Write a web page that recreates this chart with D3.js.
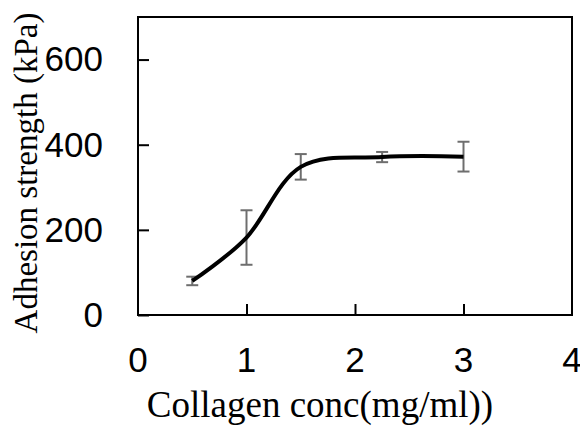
<!DOCTYPE html>
<html>
<head>
<meta charset="utf-8">
<script src="https://cdn.jsdelivr.net/npm/d3@7"></script>
<style>
  html, body { margin: 0; padding: 0; background: #fff; }
  svg { display: block; }
</style>
</head>
<body>
<svg id="chart" width="580" height="427"></svg>
<script>
// Data
const concentrations = [0.5, 1, 1.5, 2.25, 3];
const adhesion = [80, 182, 348, 371, 372];
const errors = [10, 64, 30, 12, 35];
const xTicks = [0, 1, 2, 3, 4];
const yTicks = [0, 200, 400, 600];

const svg = d3.select("#chart");
const plotL = 138, plotR = 572, plotT = 17, plotB = 315;

const x = d3.scaleLinear().domain([0, 4]).range([plotL, plotR]);
const y = d3.scaleLinear().domain([0, 700]).range([plotB, plotT]);

svg.append("rect").attr("width", 580).attr("height", 427).attr("fill", "#fff");

// Frame
svg.append("rect")
  .attr("x", plotL).attr("y", plotT)
  .attr("width", plotR - plotL).attr("height", plotB - plotT)
  .attr("fill", "none").attr("stroke", "#000").attr("stroke-width", 2);

// Y axis ticks (inside)
const yAxis = d3.axisRight(y).tickValues(yTicks).tickSize(11).tickFormat("");
const gy = svg.append("g").attr("transform", `translate(${plotL},0)`).call(yAxis);
gy.select(".domain").remove();
gy.selectAll(".tick line").attr("stroke", "#000").attr("stroke-width", 2);

// Y tick labels
svg.append("g").selectAll("text").data(yTicks).join("text")
  .attr("x", 103).attr("y", d => y(d))
  .attr("dy", "0.34em")
  .attr("text-anchor", "end")
  .attr("font-family", "Liberation Sans, Arial, sans-serif")
  .attr("font-size", 35)
  .attr("fill", "#000")
  .text(d => d);

// X axis ticks (inside)
const xAxis = d3.axisTop(x).tickValues(xTicks.slice(1, 4)).tickSize(11).tickFormat("");
const gx = svg.append("g").attr("transform", `translate(0,${plotB})`).call(xAxis);
gx.select(".domain").remove();
gx.selectAll(".tick line").attr("stroke", "#000").attr("stroke-width", 2);

// X tick labels
svg.append("g").selectAll("text").data(xTicks).join("text")
  .attr("x", d => x(d)).attr("y", 372)
  .attr("text-anchor", "middle")
  .attr("font-family", "Liberation Sans, Arial, sans-serif")
  .attr("font-size", 35)
  .attr("fill", "#000")
  .text(d => d);

// Error bars
const pts = concentrations.map((c, i) => ({ c, v: adhesion[i], e: errors[i] }));
const eb = svg.append("g").attr("stroke", "#6e6e6e").attr("stroke-width", 2).attr("fill", "none");
pts.forEach(p => {
  const cx = x(p.c);
  eb.append("line").attr("x1", cx).attr("x2", cx).attr("y1", y(p.v - p.e)).attr("y2", y(p.v + p.e));
  eb.append("line").attr("x1", cx - 6).attr("x2", cx + 6).attr("y1", y(p.v - p.e)).attr("y2", y(p.v - p.e));
  eb.append("line").attr("x1", cx - 6).attr("x2", cx + 6).attr("y1", y(p.v + p.e)).attr("y2", y(p.v + p.e));
});

// Smooth line
const line = d3.line().x(d => x(d.c)).y(d => y(d.v)).curve(d3.curveCardinal.tension(0));
svg.append("path").datum(pts)
  .attr("d", line)
  .attr("fill", "none").attr("stroke", "#000").attr("stroke-width", 4)
  .attr("stroke-linecap", "butt");

// Axis titles
svg.append("text")
  .attr("x", 320).attr("y", 417)
  .attr("text-anchor", "middle")
  .attr("font-family", "Liberation Serif, Times New Roman, serif")
  .attr("font-size", 37)
  .attr("fill", "#000")
  .text("Collagen conc(mg/ml))");

svg.append("text")
  .attr("transform", "translate(37,173) rotate(-90)")
  .attr("text-anchor", "middle")
  .attr("font-family", "Liberation Serif, Times New Roman, serif")
  .attr("font-size", 33)
  .attr("fill", "#000")
  .text("Adhesion strength (kPa)");
</script>
</body>
</html>
